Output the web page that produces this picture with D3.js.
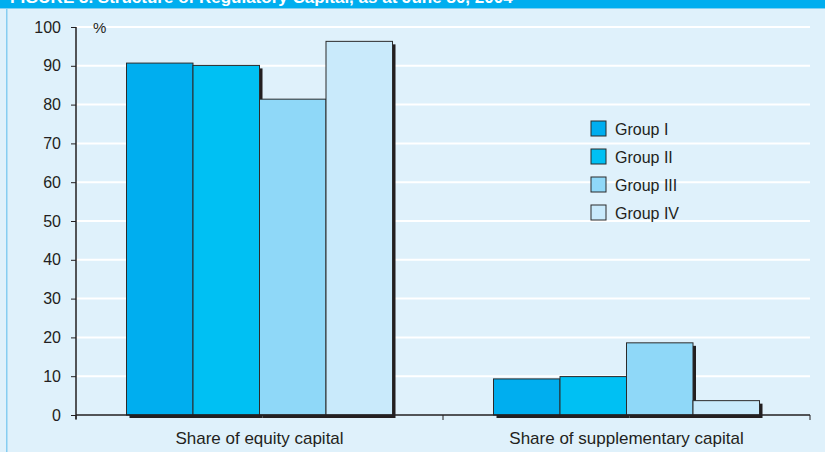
<!DOCTYPE html>
<html>

<head>
    <meta charset="utf-8">
    <title>Structure of regulatory capital</title>
    <style>
        body { margin: 0; background: #ffffff; }
        svg { display: block; font-family: "Liberation Sans", Arial, Helvetica, sans-serif; }
    </style>
</head>

<body>
    <script src="https://cdn.jsdelivr.net/npm/d3@7/dist/d3.min.js"></script>
    <script>
    // data
    let categories = ['Share of equity capital', 'Share of supplementary capital'];
    let groups = ['Group I', 'Group II', 'Group III', 'Group IV'];
    let equity = [90.7, 90.1, 81.4, 96.3];
    let supplementary = [9.3, 9.9, 18.6, 3.7];
    let yTicks = [0, 10, 20, 30, 40, 50, 60, 70, 80, 90, 100];
    let colors = ['#00aeef', '#00c0f3', '#8fd8f8', '#c9eafb'];

    let width = 825,
        height = 452;

    let svg = d3.select('body').append('svg').attr('width', width).attr('height', height);

    // panel background + header strip
    svg.append('rect').attr('width', width).attr('height', height).attr('fill', '#dff1fb');
    svg.append('rect').attr('x', 6).attr('y', 0).attr('width', 1.5).attr('height', height).attr('fill', '#86cdf1');
    svg.append('rect').attr('width', width).attr('height', 8).attr('fill', '#00aeef');
    svg.append('rect').attr('x', 0).attr('y', 8).attr('width', width).attr('height', 1).attr('fill', '#7fd0f3');
    // title strip (the page crop only keeps the bottom of this line)
    svg.append('text')
        .attr('x', 10).attr('y', 3)
        .attr('fill', '#ffffff')
        .attr('font-weight', 'bold')
        .attr('font-size', 17)
        .text('FIGURE 3. Structure of Regulatory Capital, as at June 30, 2004');

    // plot area
    let plotLeft = 76, plotRight = 810, plotTop = 27, plotBottom = 415;

    let y = d3.scaleLinear().domain([0, 100]).range([plotBottom, plotTop]);
    let x0 = d3.scaleBand().domain(categories).range([plotLeft, plotRight]);
    // bars fill the middle ~73% of each category band
    let x1 = d3.scaleBand().domain(groups).range([50.5, x0.bandwidth() - 50.5]);

    // gridlines
    svg.append('g')
        .selectAll('line')
        .data(yTicks.filter(d => d > 0))
        .enter()
        .append('line')
        .attr('x1', plotLeft).attr('x2', plotRight)
        .attr('y1', d => y(d)).attr('y2', d => y(d))
        .attr('stroke', '#ffffff')
        .attr('stroke-width', 2);

    // "%" unit
    svg.append('text')
        .attr('x', 93).attr('y', 33)
        .attr('font-size', 15)
        .attr('fill', '#231f20')
        .text('%');

    let series = [equity, supplementary];
    let rows = [];
    categories.forEach(function(c, ci) {
        groups.forEach(function(g, gi) {
            rows.push({ cat: c, group: g, value: series[ci][gi], color: colors[gi] });
        });
    });

    // shadows behind bars
    svg.append('g')
        .selectAll('rect')
        .data(rows)
        .enter()
        .append('rect')
        .attr('x', d => x0(d.cat) + x1(d.group) + 3)
        .attr('y', d => y(d.value) + 3)
        .attr('width', x1.bandwidth())
        .attr('height', d => plotBottom - y(d.value))
        .attr('fill', '#231f20');

    // bars
    svg.append('g')
        .selectAll('rect')
        .data(rows)
        .enter()
        .append('rect')
        .attr('x', d => x0(d.cat) + x1(d.group))
        .attr('y', d => y(d.value))
        .attr('width', x1.bandwidth())
        .attr('height', d => plotBottom - y(d.value))
        .attr('fill', d => d.color)
        .attr('stroke', '#2b2b2b')
        .attr('stroke-width', 1);

    // y axis
    let yAxis = d3.axisLeft(y).tickValues(yTicks).tickSize(5).tickPadding(10);
    let gy = svg.append('g')
        .attr('transform', 'translate(' + plotLeft + ',0)')
        .call(yAxis);
    gy.select('.domain').attr('stroke', '#231f20').attr('stroke-width', 1.5)
        .attr('d', 'M0,' + plotTop + 'V' + (plotBottom + 4));
    gy.selectAll('.tick line').attr('stroke', '#231f20');
    gy.selectAll('.tick text').attr('font-size', 16).attr('fill', '#231f20')
        .attr('font-family', '"Liberation Sans", Arial, sans-serif');

    // x axis
    let xAxis = d3.axisBottom(x0).tickSize(0).tickPadding(17);
    let gx = svg.append('g')
        .attr('transform', 'translate(0,' + plotBottom + ')')
        .call(xAxis);
    gx.select('.domain').attr('stroke', '#231f20').attr('stroke-width', 1.5)
        .attr('d', 'M' + plotLeft + ',0H' + plotRight);
    gx.selectAll('.tick text').attr('font-size', 17).attr('fill', '#231f20')
        .attr('font-family', '"Liberation Sans", Arial, sans-serif');
    // band separators
    gx.append('g')
        .selectAll('line')
        .data([plotLeft, x0(categories[1]), plotRight])
        .enter()
        .append('line')
        .attr('x1', d => d).attr('x2', d => d)
        .attr('y1', 0).attr('y2', 5)
        .attr('stroke', '#231f20');

    // legend
    let legend = svg.append('g').attr('transform', 'translate(591,121)');
    let items = legend.selectAll('g')
        .data(groups)
        .enter()
        .append('g')
        .attr('transform', (d, i) => 'translate(0,' + i * 28 + ')');
    items.append('rect')
        .attr('width', 15).attr('height', 15)
        .attr('fill', (d, i) => colors[i])
        .attr('stroke', '#2b2b2b');
    items.append('text')
        .attr('x', 24).attr('y', 14)
        .attr('font-size', 16)
        .attr('fill', '#231f20')
        .text(d => d);
    </script>
</body>

</html>
